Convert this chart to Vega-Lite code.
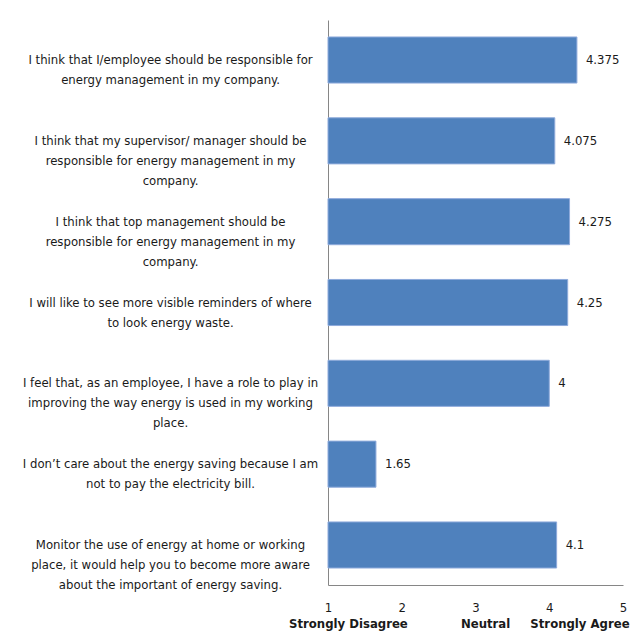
{
  "$schema": "https://vega.github.io/schema/vega-lite/v6.json",
  "autosize": "none",
  "width": 295,
  "height": 565,
  "padding": {"left": 328, "top": 20, "right": 19, "bottom": 55},
  "background": "white",
  "config": {
    "view": {"stroke": null},
    "font": "Liberation Sans Narrow, DejaVu Sans Condensed, sans-serif",
    "axis": {"labelFont": "Liberation Sans Narrow, DejaVu Sans Condensed, sans-serif", "labelColor": "#1a1a1a"}
  },
  "data": {
    "values": [
      {"statement": "I think that I/employee should be responsible for|energy management in my company.", "score": 4.375},
      {"statement": "I think that my supervisor/ manager should be|responsible for energy management in my|company.", "score": 4.075},
      {"statement": "I think that top management should be|responsible for energy management in my|company.", "score": 4.275},
      {"statement": "I will like to see more visible reminders of where|to look energy waste.", "score": 4.25},
      {"statement": "I feel that, as an employee, I have a role to play in|improving the way energy is used in my working|place.", "score": 4},
      {"statement": "I don’t care about the energy saving because I am|not to pay the electricity bill.", "score": 1.65},
      {"statement": "Monitor the use of energy at home or working|place, it would help you to become more aware|about the important of energy saving.", "score": 4.1}
    ]
  },
  "encoding": {
    "y": {
      "field": "statement",
      "type": "nominal",
      "sort": null,
      "scale": {"paddingInner": 0.43, "paddingOuter": 0.21},
      "axis": {
        "title": null,
        "labelExpr": "split(datum.label, '|')",
        "labelAlign": "center",
        "labelBaseline": "middle",
        "labelPadding": 158,
        "labelLimit": 400,
        "labelFontSize": 13,
        "labelLineHeight": 20,
        "ticks": false,
        "domainColor": "#868686",
        "domainWidth": 1
      }
    }
  },
  "layer": [
    {
      "mark": {"type": "bar", "color": "#4F81BD", "stroke": "#8EAADB", "strokeWidth": 1},
      "encoding": {
        "x": {
          "field": "score",
          "type": "quantitative",
          "scale": {"domain": [1, 5], "nice": false, "zero": false},
          "axis": {
            "title": null,
            "values": [1, 2, 3, 4, 5],
            "grid": false,
            "ticks": false,
            "labelFontSize": 13,
            "labelPadding": 22,
            "labelBaseline": "middle",
            "labelFlush": false,
            "domainColor": "#868686",
            "orient": "bottom"
          }
        },
        "x2": {"datum": 1}
      }
    },
    {
      "mark": {"type": "text", "align": "left", "baseline": "middle", "dx": 9, "fontSize": 13, "color": "#1a1a1a"},
      "encoding": {
        "x": {
          "field": "score",
          "type": "quantitative",
          "axis": {
            "title": null,
            "orient": "bottom",
            "values": [1.27, 3.13, 4.41],
            "labelExpr": "datum.value < 2 ? 'Strongly Disagree' : datum.value < 4 ? 'Neutral' : 'Strongly Agree'",
            "labelFontWeight": "bold",
            "labelFontSize": 13,
            "labelPadding": 38,
            "labelBaseline": "middle",
            "labelFlush": false,
            "labelOverlap": false,
            "grid": false,
            "ticks": false,
            "domain": false
          }
        },
        "text": {"field": "score", "type": "quantitative", "format": ".4~g"}
      }
    }
  ],
  "resolve": {"axis": {"x": "independent"}}
}
